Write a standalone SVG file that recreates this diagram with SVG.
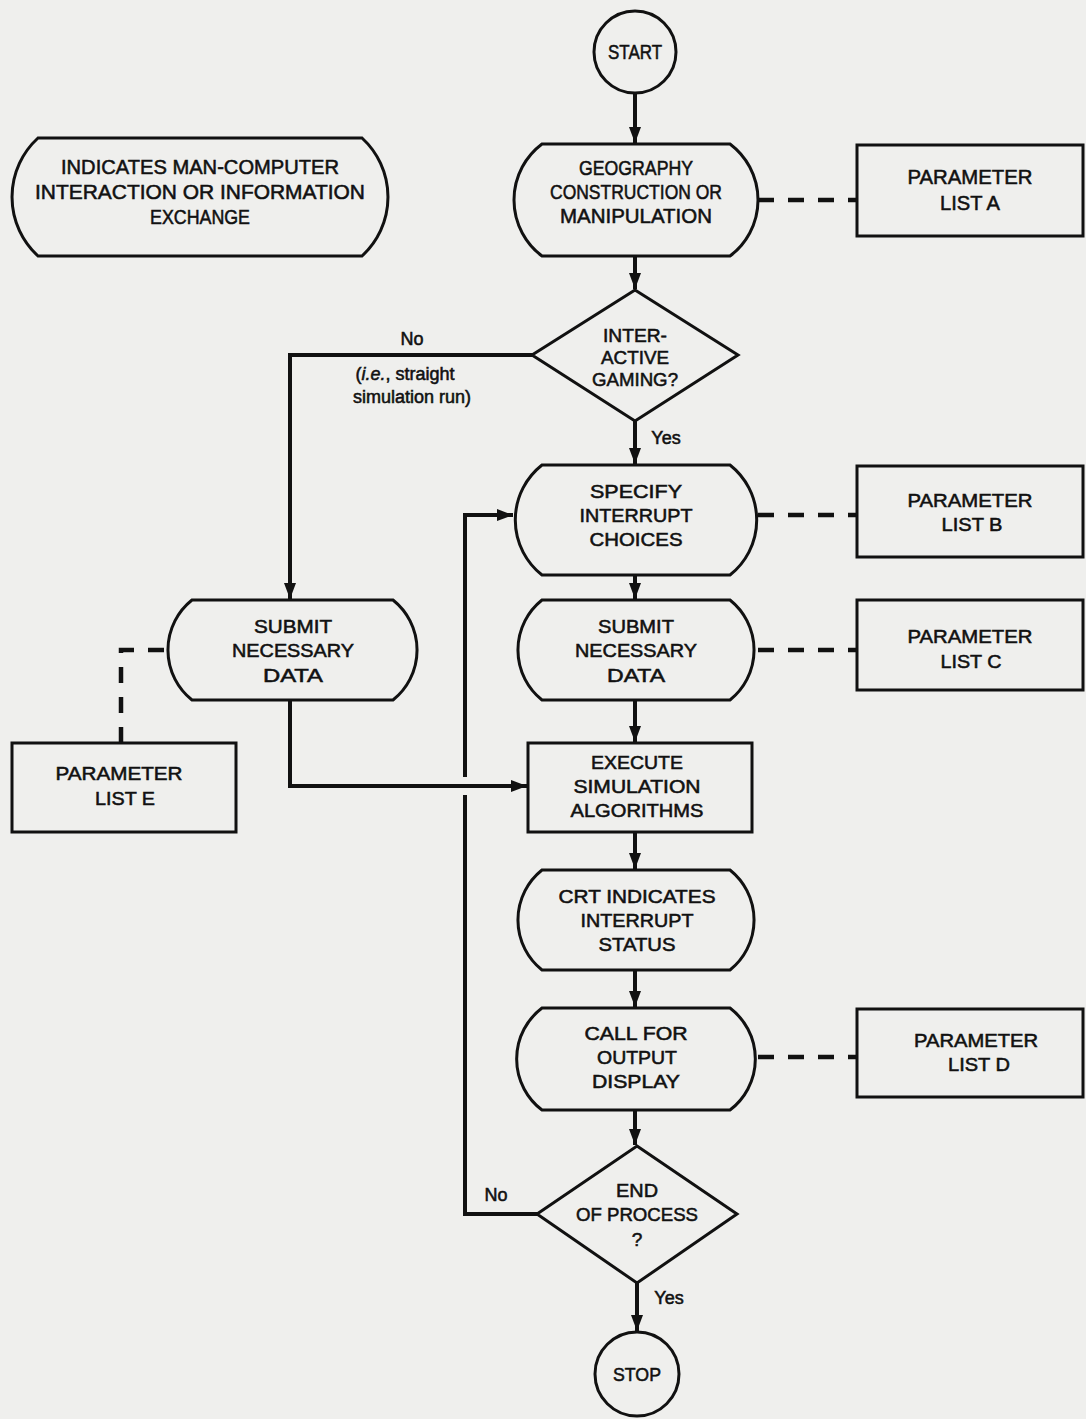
<svg xmlns="http://www.w3.org/2000/svg" width="1086" height="1419" viewBox="0 0 1086 1419">
<defs>
<marker id="ah" viewBox="0 0 16 12" refX="16" refY="6" markerWidth="16" markerHeight="12" markerUnits="userSpaceOnUse" orient="auto">
<path d="M0,0 L16,6 L0,12 z" fill="#111"/>
</marker>
<style>
.shape{fill:none;stroke:#111;stroke-width:3}
.flow{fill:none;stroke:#111;stroke-width:4}
.dash{fill:none;stroke:#111;stroke-width:4.5;stroke-dasharray:16,14}
text{font-family:"Liberation Sans",Arial,sans-serif;fill:#111;text-anchor:middle;stroke:#111;stroke-width:0.55}
.t{font-size:19px}
.n{font-size:21px}
.s{font-size:18px}
</style>
</defs>
<rect x="0" y="0" width="1086" height="1419" fill="#efefed"/>

<g id="connectors">
<path class="flow" d="M635,93 V143" marker-end="url(#ah)"/>
<path class="flow" d="M635,256 V289" marker-end="url(#ah)"/>
<path class="flow" d="M533,355 H290 V599" marker-end="url(#ah)"/>
<path class="flow" d="M635,421 V464" marker-end="url(#ah)"/>
<path class="flow" d="M635,575 V599" marker-end="url(#ah)"/>
<path class="flow" d="M635,700 V742" marker-end="url(#ah)"/>
<path class="flow" d="M290,700 V786 H527" marker-end="url(#ah)"/>
<path class="flow" d="M635,832 V869" marker-end="url(#ah)"/>
<path class="flow" d="M635,970 V1007" marker-end="url(#ah)"/>
<path class="flow" d="M635,1110 V1145" marker-end="url(#ah)"/>
<path class="flow" d="M537,1214 H465 V795"/>
<path class="flow" d="M465,777 V515 H513" marker-end="url(#ah)"/>
<path class="flow" d="M637,1283 V1331" marker-end="url(#ah)"/>
<path class="dash" d="M758,200 H857"/>
<path class="dash" d="M758,515 H857"/>
<path class="dash" d="M758,650 H857"/>
<path class="dash" d="M758,1057 H857"/>
<path class="dash" d="M164,650 H121 V743"/>
<text class="s" x="412" y="345">No</text>
<text class="s" x="405" y="380">(<tspan font-style="italic">i.e.</tspan>, straight</text>
<text class="s" x="412" y="403">simulation run)</text>
<text class="s" x="666" y="444">Yes</text>
<text class="s" x="496" y="1201">No</text>
<text class="s" x="669" y="1304">Yes</text>
</g>

<g id="start">
<circle class="shape" cx="635" cy="52" r="41"/>
<text class="n" x="635" y="59" textLength="54" lengthAdjust="spacingAndGlyphs">START</text>
</g>

<g id="legend">
<path class="shape" d="M38,138 H362 A80,80 0 0 1 362,256 H38 A80,80 0 0 1 38,138 Z"/>
<text class="n" x="200" y="174" textLength="278" lengthAdjust="spacingAndGlyphs">INDICATES MAN-COMPUTER</text>
<text class="n" x="200" y="199" textLength="330" lengthAdjust="spacingAndGlyphs">INTERACTION OR INFORMATION</text>
<text class="n" x="200" y="224" textLength="100" lengthAdjust="spacingAndGlyphs">EXCHANGE</text>
</g>

<g id="geography">
<path class="shape" d="M542,144 H730 A70,70 0 0 1 730,256 H542 A70,70 0 0 1 542,144 Z"/>
<text class="n" x="636" y="175" textLength="114" lengthAdjust="spacingAndGlyphs">GEOGRAPHY</text>
<text class="n" x="636" y="199" textLength="172" lengthAdjust="spacingAndGlyphs">CONSTRUCTION OR</text>
<text class="n" x="636" y="223" textLength="152" lengthAdjust="spacingAndGlyphs">MANIPULATION</text>
</g>

<g id="param-a">
<rect class="shape" x="857" y="145" width="226" height="91"/>
<text class="n" x="970" y="184" textLength="125" lengthAdjust="spacingAndGlyphs">PARAMETER</text>
<text class="n" x="970" y="210" textLength="60" lengthAdjust="spacingAndGlyphs">LIST A</text>
</g>

<g id="gaming">
<path class="shape" d="M635,290 L738,355 L635,421 L532,355 Z"/>
<text class="t" x="635" y="342" textLength="64" lengthAdjust="spacingAndGlyphs">INTER-</text>
<text class="t" x="635" y="364" textLength="68" lengthAdjust="spacingAndGlyphs">ACTIVE</text>
<text class="t" x="635" y="386" textLength="86" lengthAdjust="spacingAndGlyphs">GAMING?</text>
</g>

<g id="specify">
<path class="shape" d="M542,465 H730 A70,70 0 0 1 730,575 H542 A70,70 0 0 1 542,465 Z"/>
<text class="t" x="636" y="498" textLength="92" lengthAdjust="spacingAndGlyphs">SPECIFY</text>
<text class="t" x="636" y="522" textLength="113" lengthAdjust="spacingAndGlyphs">INTERRUPT</text>
<text class="t" x="636" y="546" textLength="93" lengthAdjust="spacingAndGlyphs">CHOICES</text>
</g>

<g id="param-b">
<rect class="shape" x="857" y="466" width="226" height="91"/>
<text class="t" x="970" y="507" textLength="125" lengthAdjust="spacingAndGlyphs">PARAMETER</text>
<text class="t" x="972" y="531" textLength="61" lengthAdjust="spacingAndGlyphs">LIST B</text>
</g>

<g id="submit-right">
<path class="shape" d="M542,600 H730 A64,64 0 0 1 730,700 H542 A64,64 0 0 1 542,600 Z"/>
<text class="t" x="636" y="633" textLength="76" lengthAdjust="spacingAndGlyphs">SUBMIT</text>
<text class="t" x="636" y="657" textLength="122" lengthAdjust="spacingAndGlyphs">NECESSARY</text>
<text class="t" x="636" y="682" textLength="58" lengthAdjust="spacingAndGlyphs">DATA</text>
</g>

<g id="param-c">
<rect class="shape" x="857" y="600" width="226" height="90"/>
<text class="t" x="970" y="643" textLength="125" lengthAdjust="spacingAndGlyphs">PARAMETER</text>
<text class="t" x="971" y="668" textLength="61" lengthAdjust="spacingAndGlyphs">LIST C</text>
</g>

<g id="submit-left">
<path class="shape" d="M192,600 H393 A64,64 0 0 1 393,700 H192 A64,64 0 0 1 192,600 Z"/>
<text class="t" x="293" y="633" textLength="78" lengthAdjust="spacingAndGlyphs">SUBMIT</text>
<text class="t" x="293" y="657" textLength="122" lengthAdjust="spacingAndGlyphs">NECESSARY</text>
<text class="t" x="293" y="682" textLength="60" lengthAdjust="spacingAndGlyphs">DATA</text>
</g>

<g id="param-e">
<rect class="shape" x="12" y="743" width="224" height="89"/>
<text class="t" x="119" y="780" textLength="127" lengthAdjust="spacingAndGlyphs">PARAMETER</text>
<text class="t" x="125" y="805" textLength="60" lengthAdjust="spacingAndGlyphs">LIST E</text>
</g>

<g id="execute">
<rect class="shape" x="528" y="743" width="224" height="89"/>
<text class="t" x="637" y="769" textLength="92" lengthAdjust="spacingAndGlyphs">EXECUTE</text>
<text class="t" x="637" y="793" textLength="127" lengthAdjust="spacingAndGlyphs">SIMULATION</text>
<text class="t" x="637" y="817" textLength="133" lengthAdjust="spacingAndGlyphs">ALGORITHMS</text>
</g>

<g id="crt">
<path class="shape" d="M542,870 H730 A64,64 0 0 1 730,970 H542 A64,64 0 0 1 542,870 Z"/>
<text class="t" x="637" y="903" textLength="157" lengthAdjust="spacingAndGlyphs">CRT INDICATES</text>
<text class="t" x="637" y="927" textLength="113" lengthAdjust="spacingAndGlyphs">INTERRUPT</text>
<text class="t" x="637" y="951" textLength="77" lengthAdjust="spacingAndGlyphs">STATUS</text>
</g>

<g id="call">
<path class="shape" d="M542,1008 H730 A64,64 0 0 1 730,1110 H542 A64,64 0 0 1 542,1008 Z"/>
<text class="t" x="636" y="1040" textLength="103" lengthAdjust="spacingAndGlyphs">CALL FOR</text>
<text class="t" x="637" y="1064" textLength="80" lengthAdjust="spacingAndGlyphs">OUTPUT</text>
<text class="t" x="636" y="1088" textLength="88" lengthAdjust="spacingAndGlyphs">DISPLAY</text>
</g>

<g id="param-d">
<rect class="shape" x="857" y="1009" width="226" height="88"/>
<text class="t" x="976" y="1047" textLength="124" lengthAdjust="spacingAndGlyphs">PARAMETER</text>
<text class="t" x="979" y="1071" textLength="62" lengthAdjust="spacingAndGlyphs">LIST D</text>
</g>

<g id="end">
<path class="shape" d="M637,1146 L737,1214 L637,1283 L537,1214 Z"/>
<text class="t" x="637" y="1197" textLength="42" lengthAdjust="spacingAndGlyphs">END</text>
<text class="t" x="637" y="1221" textLength="122" lengthAdjust="spacingAndGlyphs">OF PROCESS</text>
<text class="t" x="637" y="1246">?</text>
</g>

<g id="stop">
<circle class="shape" cx="637" cy="1374" r="42"/>
<text class="t" x="637" y="1381" textLength="48" lengthAdjust="spacingAndGlyphs">STOP</text>
</g>
</svg>
